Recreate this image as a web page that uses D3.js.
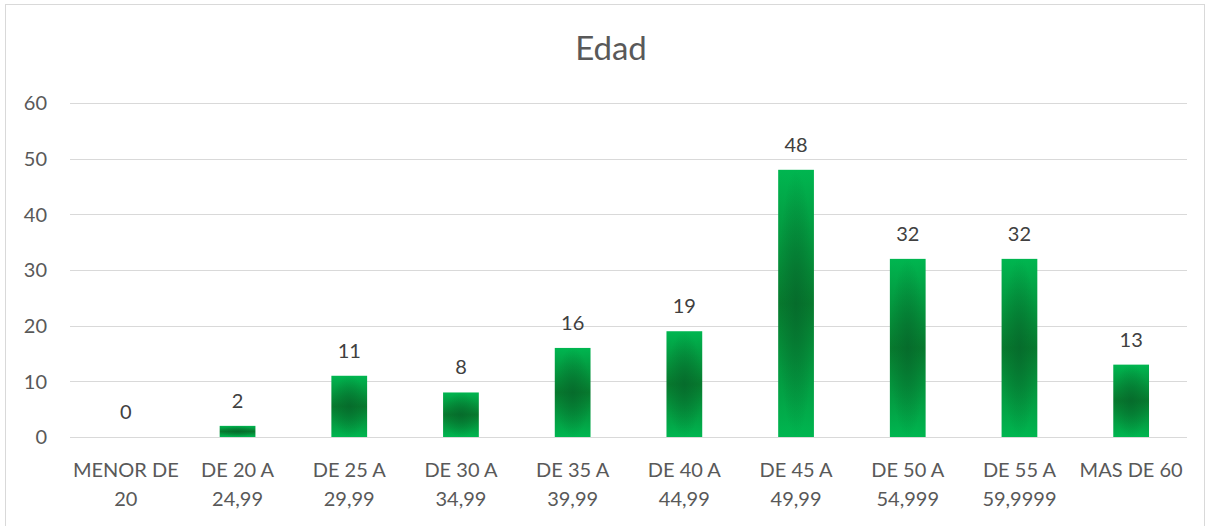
<!DOCTYPE html>
<html>
<head>
<meta charset="utf-8">
<script src="https://cdn.jsdelivr.net/npm/d3@7"></script>
<style>
  body { margin: 0; background: #fff; }
  text { font-family: Lato, "Open Sans", sans-serif; }
</style>
</head>
<body>
<svg id="chart" width="1208" height="526"></svg>
<script>
// data
var categories = [
  ["MENOR DE", "20"], ["DE 20 A", "24,99"], ["DE 25 A", "29,99"], ["DE 30 A", "34,99"],
  ["DE 35 A", "39,99"], ["DE 40 A", "44,99"], ["DE 45 A", "49,99"], ["DE 50 A", "54,999"],
  ["DE 55 A", "59,9999"], ["MAS DE 60"]
];
var values = [0, 2, 11, 8, 16, 19, 48, 32, 32, 13];
var yTicks = [0, 10, 20, 30, 40, 50, 60];

var svg = d3.select("#chart");
var margin = { left: 70, right: 21, top: 103, bottom: 89 };
var W = 1208, H = 526;

// chart border
svg.append("rect")
  .attr("x", 5.5).attr("y", 4.5)
  .attr("width", W - 9).attr("height", H)
  .attr("fill", "#fff").attr("stroke", "#d9d9d9").attr("stroke-width", 1);

var x = d3.scaleBand()
  .domain(d3.range(categories.length))
  .range([margin.left, W - margin.right])
  .paddingInner(0.68).paddingOuter(0.34);

var y = d3.scaleLinear().domain([0, 60]).range([H - margin.bottom, margin.top]);

// gradients
var defs = svg.append("defs");
var lin = defs.append("linearGradient").attr("id", "barLin")
  .attr("x1", 0).attr("y1", 0).attr("x2", 0).attr("y2", 1);
lin.append("stop").attr("offset", "0%").attr("stop-color", "#00b650");
lin.append("stop").attr("offset", "50%").attr("stop-color", "#077a2e");
lin.append("stop").attr("offset", "100%").attr("stop-color", "#00b650");
var rad = defs.append("radialGradient").attr("id", "barRad")
  .attr("cx", 0.5).attr("cy", 0.5).attr("r", 0.5);
rad.append("stop").attr("offset", "0%").attr("stop-color", "#05632a").attr("stop-opacity", 0.6);
rad.append("stop").attr("offset", "100%").attr("stop-color", "#05632a").attr("stop-opacity", 0);

// grid
svg.append("g").selectAll("line").data(yTicks).join("line")
  .attr("x1", margin.left).attr("x2", W - margin.right)
  .attr("y1", d => Math.round(y(d)) + 0.5).attr("y2", d => Math.round(y(d)) + 0.5)
  .attr("stroke", "#d9d9d9").attr("stroke-width", 1);

// y labels
svg.append("g").selectAll("text").data(yTicks).join("text")
  .attr("x", 47).attr("y", d => y(d))
  .attr("dy", "0.36em")
  .attr("text-anchor", "end")
  .attr("font-size", 20).attr("fill", "#595959")
  .text(d => d);

// bars
var bars = svg.append("g");
bars.selectAll("rect.b").data(values).join("rect").attr("class", "b")
  .attr("x", (d, i) => x(i)).attr("width", x.bandwidth())
  .attr("y", d => y(d)).attr("height", d => y(0) - y(d))
  .attr("fill", "url(#barLin)");
bars.selectAll("rect.r").data(values).join("rect").attr("class", "r")
  .attr("x", (d, i) => x(i)).attr("width", x.bandwidth())
  .attr("y", d => y(d)).attr("height", d => y(0) - y(d))
  .attr("fill", "url(#barRad)");

// data labels
svg.append("g").selectAll("text").data(values).join("text")
  .attr("x", (d, i) => x(i) + x.bandwidth() / 2)
  .attr("y", d => y(d) - 18)
  .attr("text-anchor", "middle")
  .attr("font-size", 20).attr("fill", "#404040")
  .text(d => d);

// x labels
var xl = svg.append("g").selectAll("text").data(categories).join("text")
  .attr("x", (d, i) => x(i) + x.bandwidth() / 2)
  .attr("y", 477)
  .attr("text-anchor", "middle")
  .attr("font-size", 20).attr("fill", "#595959");
xl.selectAll("tspan").data(d => d).join("tspan")
  .attr("x", function() { return d3.select(this.parentNode).attr("x"); })
  .attr("dy", (d, i) => i === 0 ? 0 : 29)
  .text(d => d);

// title
svg.append("text")
  .attr("x", 611).attr("y", 60)
  .attr("text-anchor", "middle")
  .attr("font-size", 33).attr("fill", "#595959")
  .text("Edad");
</script>
</body>
</html>
